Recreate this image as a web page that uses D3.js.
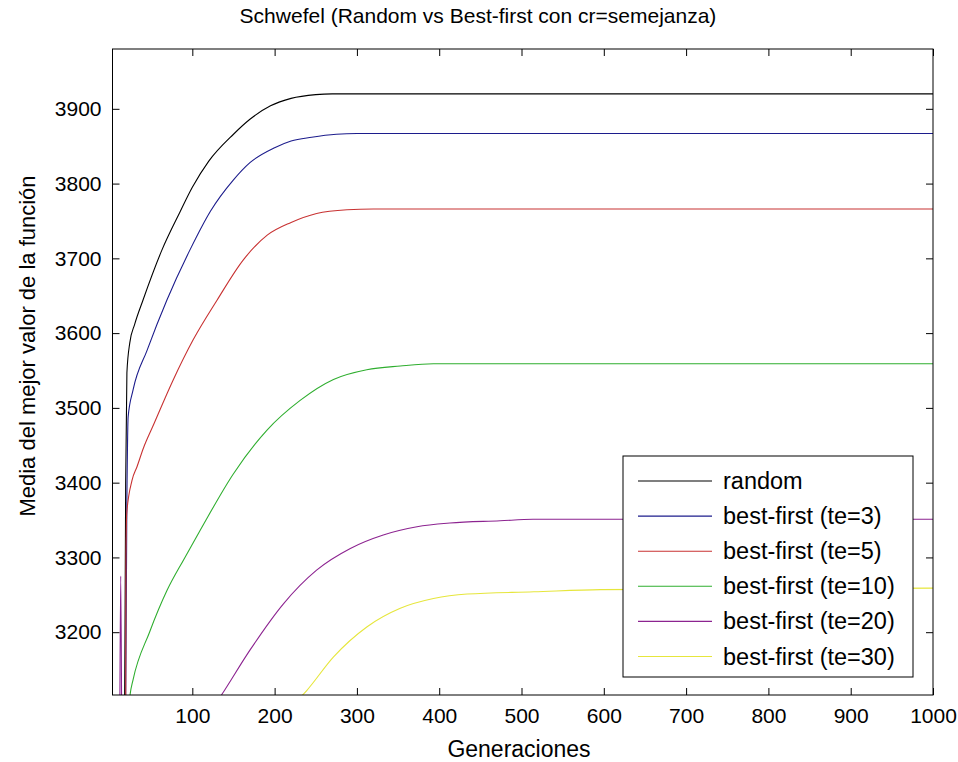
<!DOCTYPE html>
<html>
<head>
<meta charset="utf-8">
<script src="https://cdn.jsdelivr.net/npm/d3@7"></script>
<style>
  html, body { margin: 0; padding: 0; background: #ffffff; }
  svg { display: block; font-family: "Liberation Sans", Arial, sans-serif; }
</style>
</head>
<body>
<svg id="chart" width="958" height="762"></svg>
<script>
// Generation / mean-best-value pairs for each run
const randomGen   = [3, 17, 19, 20.5, 24, 30, 40, 63, 85, 100, 120, 150, 170, 195, 220, 250, 270, 1000];
const randomVal   = [2900, 2960, 3400, 3547, 3587, 3612, 3644, 3711, 3762, 3795, 3830, 3866, 3886, 3904, 3914, 3919, 3920, 3920];

const te3Gen = [3, 18, 20.5, 22, 28, 45, 69, 97, 122, 150, 170, 200, 220, 245, 275, 300, 1000];
const te3Val = [2900, 2960, 3380, 3488, 3524, 3577, 3644, 3711, 3763, 3805, 3828, 3848, 3857, 3862, 3866, 3867, 3867];

const te5Gen = [3, 18.8, 19.4, 20.3, 26.7, 33, 40.5, 52.3, 76.6, 101, 130, 162, 191, 220, 251, 288, 320, 1000];
const te5Val = [2900, 2980, 3306, 3359, 3403, 3422, 3446, 3476, 3537, 3591, 3644, 3698, 3731, 3748, 3760, 3765, 3766, 3766];

const te10Gen = [3, 20, 24.3, 27.9, 48, 69.3, 90, 109.4, 150, 190.5, 231, 271.5, 312, 352.7, 393, 1000];
const te10Val = [2900, 3060, 3116, 3136, 3200, 3256, 3298, 3336, 3412, 3470, 3510, 3538, 3551, 3556, 3559, 3559];

const te20Gen = [3, 11, 13, 15, 120, 137.8, 170, 210.7, 251, 292, 332, 373, 413, 474, 514, 1000];
const te20Val = [2900, 2950, 3275, 2950, 3090, 3120, 3176, 3238, 3283, 3312, 3330, 3341, 3346, 3349, 3351, 3351];

const te30Gen = [3, 200, 239, 271.6, 312, 352.7, 393, 434, 515, 596, 1000];
const te30Val = [2900, 3080, 3122, 3167, 3207, 3232, 3245, 3251, 3254, 3257, 3259];

const seriesNames  = ["random", "best-first (te=3)", "best-first (te=5)", "best-first (te=10)", "best-first (te=20)", "best-first (te=30)"];
const seriesColors = ["#000000", "#1c1c8c", "#c83232", "#2fae2f", "#8c2390", "#e6e63c"];

const xTicks = [100, 200, 300, 400, 500, 600, 700, 800, 900, 1000];
const yTicks = [3200, 3300, 3400, 3500, 3600, 3700, 3800, 3900];

const titleText = "Schwefel (Random vs Best-first con cr=semejanza)";
const xLabel = "Generaciones";
const yLabel = "Media del mejor valor de la función";

const seriesData = [
  [randomGen, randomVal], [te3Gen, te3Val], [te5Gen, te5Val],
  [te10Gen, te10Val], [te20Gen, te20Val], [te30Gen, te30Val]
].map(([g, v], i) => ({
  name: seriesNames[i],
  color: seriesColors[i],
  points: g.map((gen, j) => ({ gen, val: v[j] }))
}));

const svg = d3.select("#chart");
const plot = { left: 112.5, right: 933, top: 49, bottom: 695 };

const x = d3.scaleLinear().domain([3, 1000]).range([plot.left, plot.right]);
const y = d3.scaleLinear().domain([3116, 3980]).range([plot.bottom, plot.top]);

svg.append("defs").append("clipPath").attr("id", "plotClip")
  .append("rect")
  .attr("x", plot.left).attr("y", plot.top)
  .attr("width", plot.right - plot.left).attr("height", plot.bottom - plot.top);

// Curves
const line = d3.line().curve(d3.curveMonotoneX).x(d => x(d.gen)).y(d => y(d.val));
const curves = svg.append("g").attr("clip-path", "url(#plotClip)");
seriesData.forEach(s => {
  curves.append("path")
    .datum(s.points)
    .attr("fill", "none")
    .attr("stroke", s.color)
    .attr("stroke-width", 1.1)
    .attr("d", line);
});

// Axes with inward ticks on all four sides
const tickLen = 7;
const fontTick = 21;
const fmt = d3.format("d");
const xBottom = d3.axisBottom(x).tickValues(xTicks).tickFormat(fmt).tickSizeInner(-tickLen).tickSizeOuter(0).tickPadding(tickLen + 6);
const xTop = d3.axisTop(x).tickValues(xTicks).tickSizeInner(-tickLen).tickSizeOuter(0).tickFormat("");
const yLeft = d3.axisLeft(y).tickValues(yTicks).tickFormat(fmt).tickSizeInner(-tickLen).tickSizeOuter(0).tickPadding(tickLen + 4);
const yRight = d3.axisRight(y).tickValues(yTicks).tickSizeInner(-tickLen).tickSizeOuter(0).tickFormat("");

function styleAxis(g) {
  g.select(".domain").remove();
  g.selectAll(".tick line").attr("stroke", "#000").attr("stroke-width", 1);
  g.selectAll(".tick text").attr("fill", "#000").attr("font-size", fontTick)
    .attr("font-family", "Liberation Sans, Arial, sans-serif");
}

svg.append("g").attr("transform", `translate(0,${plot.bottom})`).call(xBottom).call(styleAxis);
svg.append("g").attr("transform", `translate(0,${plot.top})`).call(xTop).call(styleAxis);
svg.append("g").attr("transform", `translate(${plot.left},0)`).call(yLeft).call(styleAxis);
svg.append("g").attr("transform", `translate(${plot.right},0)`).call(yRight).call(styleAxis);

// Frame
svg.append("rect")
  .attr("x", plot.left).attr("y", plot.top)
  .attr("width", plot.right - plot.left).attr("height", plot.bottom - plot.top)
  .attr("fill", "none").attr("stroke", "#000").attr("stroke-width", 1);

// Title and axis labels
svg.append("text")
  .attr("x", 478).attr("y", 23)
  .attr("text-anchor", "middle").attr("font-size", 21).attr("fill", "#000")
  .text(titleText);

svg.append("text")
  .attr("x", 519).attr("y", 757)
  .attr("text-anchor", "middle").attr("font-size", 23).attr("fill", "#000")
  .text(xLabel);

svg.append("text")
  .attr("transform", "translate(35,346) rotate(-90)")
  .attr("text-anchor", "middle").attr("font-size", 22).attr("fill", "#000")
  .text(yLabel);

// Legend
const legend = { x: 623, y: 456, w: 290, h: 221, rowStart: 481, rowStep: 35.1 };
const lg = svg.append("g");
lg.append("rect")
  .attr("x", legend.x).attr("y", legend.y).attr("width", legend.w).attr("height", legend.h)
  .attr("fill", "#ffffff").attr("stroke", "#000").attr("stroke-width", 1);

seriesData.forEach((s, i) => {
  const ry = legend.rowStart + i * legend.rowStep;
  lg.append("line")
    .attr("x1", 638).attr("x2", 712).attr("y1", ry).attr("y2", ry)
    .attr("stroke", s.color).attr("stroke-width", 1.1);
  lg.append("text")
    .attr("x", 723).attr("y", ry + 8)
    .attr("font-size", 23.5).attr("fill", "#000")
    .text(s.name);
});
</script>
</body>
</html>
